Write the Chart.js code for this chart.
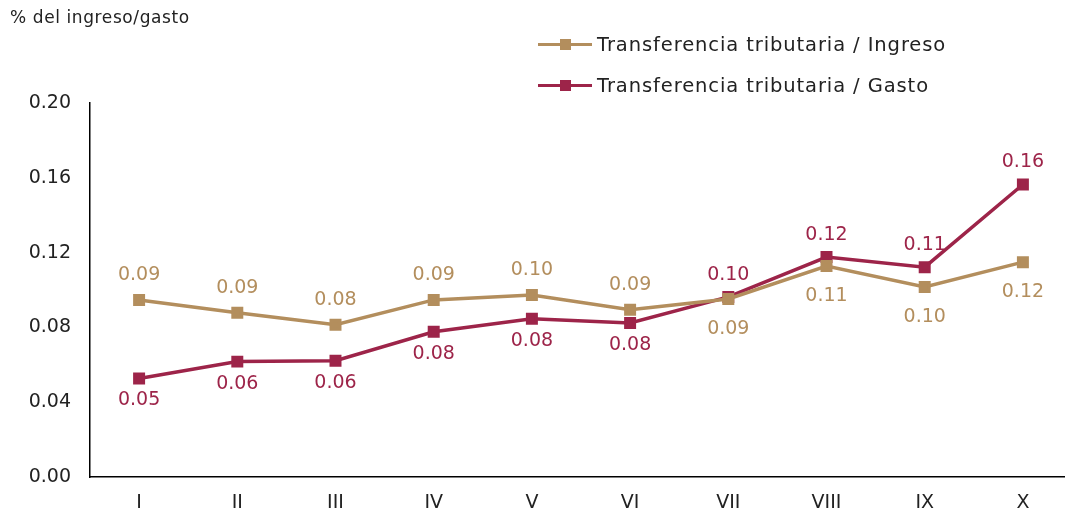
<!DOCTYPE html>
<html>
<head>
<meta charset="utf-8">
<script src="https://cdn.jsdelivr.net/npm/chart.js@4.4.1/dist/chart.umd.min.js"></script>
<style>
  html, body { margin: 0; padding: 0; background: #fff; overflow: hidden; width: 1065px; height: 515px; }
  #wrap { position: relative; width: 1072px; height: 515px; }
  #c { display: block; }
  #title { position: absolute; left: 10px; top: 7px; font: 17px "DejaVu Sans", sans-serif; letter-spacing: 0.6px; color: #222; }
  #legend { position: absolute; left: 538px; top: 24px; font: 19.5px "DejaVu Sans", sans-serif; letter-spacing: 0.9px; color: #222; }
  .li { display: flex; align-items: center; height: 41px; }
  .sw { position: relative; width: 54px; height: 12px; margin-right: 5px; }
  .sw .ln { position: absolute; left: 0; right: 0; top: 4.5px; height: 3px; }
  .sw .mk { position: absolute; left: 22px; top: 0; width: 11px; height: 11px; }
</style>
</head>
<body>
<div id="wrap">
  <canvas id="c" width="1072" height="515"></canvas>
  <div id="title">% del ingreso/gasto</div>
  <div id="legend"></div>
</div>
<script>
const categories = ['I','II','III','IV','V','VI','VII','VIII','IX','X'];
const ingresoValues = [0.0947, 0.0878, 0.0814, 0.0947, 0.0973, 0.0894, 0.0952, 0.1128, 0.1016, 0.1149];
const gastoValues   = [0.0527, 0.0617, 0.0622, 0.0777, 0.0846, 0.0824, 0.0963, 0.1176, 0.1122, 0.1564];
const ingresoLabels = ['0.09','0.09','0.08','0.09','0.10','0.09','0.09','0.11','0.10','0.12'];
const gastoLabels   = ['0.05','0.06','0.06','0.08','0.08','0.08','0.10','0.12','0.11','0.16'];
const yTicks = [0, 0.04, 0.08, 0.12, 0.16, 0.20];
const seriesNames = ['Transferencia tributaria / Ingreso', 'Transferencia tributaria / Gasto'];

const GOLD = '#B38E5D';
const GUINDA = '#9D2449';
const FONT = '"DejaVu Sans", sans-serif';

// label placement: -1 above, +1 below
const ingresoPos = [-1,-1,-1,-1,-1,-1,1,1,1,1];
const gastoPos   = [1,1,1,1,1,1,-1,-1,-1,-1];

const dataLabels = {
  id: 'dataLabels',
  afterDatasetsDraw(chart) {
    const ctx = chart.ctx;
    ctx.save();
    ctx.font = '19px ' + FONT;
    ctx.textAlign = 'center';
    ctx.textBaseline = 'middle';
    chart.data.datasets.forEach((ds, di) => {
      const meta = chart.getDatasetMeta(di);
      meta.data.forEach((pt, i) => {
        const pos = ds.labelPos[i];
        const off = pos < 0 ? ds.offUp : ds.offDown;
        ctx.fillStyle = ds.borderColor;
        ctx.fillText(ds.labels[i], pt.x, pt.y + pos * off);
      });
    });
    ctx.restore();
  }
};

new Chart(document.getElementById('c'), {
  type: 'line',
  data: {
    labels: categories,
    datasets: [
      { label: seriesNames[0], data: ingresoValues, labels: ingresoLabels, labelPos: ingresoPos, offUp: 25, offDown: 30,
        borderColor: GOLD, backgroundColor: GOLD, borderWidth: 3.5, pointStyle: 'rect', pointRadius: 6, pointHoverRadius: 6, tension: 0 },
      { label: seriesNames[1], data: gastoValues, labels: gastoLabels, labelPos: gastoPos, offUp: 22, offDown: 22,
        borderColor: GUINDA, backgroundColor: GUINDA, borderWidth: 3.5, pointStyle: 'rect', pointRadius: 6, pointHoverRadius: 6, tension: 0 }
    ]
  },
  options: {
    responsive: false,
    animation: false,
    events: [],
    layout: { autoPadding: false, padding: { top: 103, left: 0, right: 0, bottom: 0 } },
    plugins: { legend: { display: false }, tooltip: { enabled: false } },
    scales: {
      x: {
        offset: true,
        grid: { display: false, drawTicks: false },
        border: { color: '#000', width: 1.5 },
        ticks: { color: '#222', font: { family: FONT, size: 19 }, padding: 15 },
        afterFit(s) { s.height = 38; s.paddingLeft = 0; s.paddingRight = 0; }
      },
      y: {
        min: 0, max: 0.20,
        grid: { display: false, drawTicks: false },
        border: { color: '#000', width: 1.5 },
        afterBuildTicks(s) { s.ticks = yTicks.map(v => ({ value: v })); },
        ticks: { color: '#222', font: { family: FONT, size: 19 }, padding: 19,
          callback: v => v.toFixed(2) },
        afterFit(s) { s.width = 90; }
      }
    }
  },
  plugins: [dataLabels]
});

const lg = document.getElementById('legend');
[[seriesNames[0], GOLD], [seriesNames[1], GUINDA]].forEach(([name, col]) => {
  const row = document.createElement('div');
  row.className = 'li';
  row.innerHTML = '<div class="sw"><div class="ln" style="background:' + col + '"></div><div class="mk" style="background:' + col + '"></div></div><span></span>';
  row.querySelector('span').textContent = name;
  lg.appendChild(row);
});
</script>
</body>
</html>
